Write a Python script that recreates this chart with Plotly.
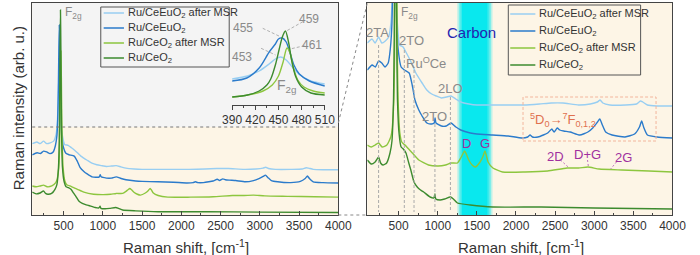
import plotly.graph_objects as go

W, H = 700, 255

# ---------------- data (Raman shift in cm-1, intensity in arb. u.) ----------------
lb_x = [100,160,200,244,285,330,373,403,418,428,435,443,450,458,468,483,513,557,600,640,
        676,720,800,860,923,980,1047,1110,1170,1230,1294,1400,1500,1700,1900,2100,2300,2450,2600,2800,
        2950,3040,3075,3110,3200,3400,3540,3590,3620,3680,3800,4000]
lb_y = [172,176,172,178,172,174,178,193,217,257,308,342,308,257,217,193,170,168,162,156,
        150,142,132,125,121,119,117,118,119,116,113,111,110,110,110,110,111,112,112,110,
        111,113,115,112,110,110,111,114,113,110,109,109]

b_x = [100,162,203,244,285,326,367,395,415,425,433,439,445,451,457,465,475,495,532,573,
       635,676,709,758,800,862,923,955,966,978,1047,1109,1170,1232,1294,1417,1500,1700,1900,2075,
       2150,2180,2210,2281,2350,2405,2458,2487,2528,2560,2610,2693,2816,2919,2981,3042,3071,3104,3146,3228,
       3393,3516,3578,3606,3631,3680,3804,4000]
b_y = [145,150,148,154,152,148,152,167,192,232,304,396,458,396,304,232,192,165,148,145,
       142,129,115,105,99,92,91,92,97,92,89,89,92,88,85,82,81,80,79,77,
       78,80,78,78,80,82,86,83,87,85,84,83,80,83,87,93,96,90,83,80,
       78,81,88,94,88,80,78,77]

lg_x = [100,150,200,244,290,350,400,416,438,448,455,460.5,466,471.5,477,484,494,516,540,594,
        640,676,758,882,1005,1100,1170,1252,1294,1320,1343,1365,1396,1440,1479,1541,1580,1602,1620,1643,
        1705,1828,2116,2405,2652,2800,2919,3063,3351,3700,4000]
lg_y = [70,68,70,72,68,70,78,85,113,158,232,330,395,330,232,158,113,82,73,69,
        65,62,55,50,49,50,52,52,57,61,64,61,55,50,48,53,59,64,60,53,
        47,43,43,44,47,47,48,46,45,44,43]

dg_x = [100,150,200,244,270,300,347,390,415,435,444,450,455,460,465,470,476,485,505,532,
        560,594,630,656,697,738,780,820,902,950,964,975,1030,1088,1162,1200,1252,1417,1705,2322,
        3000,4000]
dg_y = [55,51,53,58,52,50,52,62,74,116,178,275,406,494,406,275,178,116,82,68,
        66,62,52,45,33,28,25,23,18,17,21,16,15,16,18,16,12,10,8,8,
        7,6]

# inset (F2g region)
lb_in_x = [390,410,425,438,446,453,460,468,478,492,510]
lb_in_y = [26,29,34,41,46,48,45,38,30,24,21]
b_in_x = [390,409,425,438,446,450,455,460,465,470,477,490,510]
b_in_y = [24,27,37,53,61,66,67,63,52,40,31,24,19]
lg_in_x = [390,410,430,442,450,456,461,465,469,475,483,495,510]
lg_in_y = [8,10,14,20,29,43,57,52,38,25,18,14,12]
dg_in_x = [390,410,425,435,440,446,451,455,459,463,467,472,480,492,510]
dg_in_y = [8,10,14,20,26,40,56,68,74,63,45,29,18,12,10]

names = ["Ru/CeEuO<sub>2</sub> after MSR", "Ru/CeEuO<sub>2</sub>",
         "Ru/CeO<sub>2</sub> after MSR", "Ru/CeO<sub>2</sub>"]
colors = ["#98cef2", "#2b7bcb", "#8dc63f", "#3d8b2f"]
series = [(lb_x, lb_y), (b_x, b_y), (lg_x, lg_y), (dg_x, dg_y)]
inset = [(lb_in_x, lb_in_y), (b_in_x, b_in_y), (lg_in_x, lg_in_y), (dg_in_x, dg_in_y)]

inset_peaks = ["453", "455", "461", "459"]
xticks_main = [500, 1000, 1500, 2000, 2500, 3000, 3500, 4000]
xticks_inset = [390, 420, 450, 480, 510]

FONT = "Liberation Sans, Arial, sans-serif"
GREY_TXT = "#8a8a8a"
PURPLE = "#a0309f"

def X(px):
    return px / W

def Y(py):
    return 1 - py / H

fig = go.Figure()

for (xs, ys), c, n in zip(series, colors, names):
    fig.add_trace(go.Scatter(x=xs, y=ys, mode="lines", name=n, showlegend=False,
                             line=dict(color=c, width=1.4, shape="spline", smoothing=0.5),
                             xaxis="x", yaxis="y"))
for (xs, ys), c, n in zip(series, colors, names):
    fig.add_trace(go.Scatter(x=xs, y=ys, mode="lines", name=n, showlegend=False,
                             line=dict(color=c, width=1.4, shape="spline", smoothing=0.5),
                             xaxis="x2", yaxis="y2"))
for (xs, ys), c, n in zip(inset, colors, names):
    fig.add_trace(go.Scatter(x=xs, y=ys, mode="lines", name=n, showlegend=False,
                             line=dict(color=c, width=1.4, shape="spline", smoothing=0.8),
                             xaxis="x3", yaxis="y3"))

AX = "#444444"
common_x = dict(range=[100, 4000], showline=True, mirror=True, linecolor=AX, linewidth=1,
                ticks="inside", ticklen=4, tickcolor=AX, tickvals=xticks_main,
                minor=dict(ticks="inside", ticklen=2, tickcolor=AX, dtick=250, tick0=0),
                tickfont=dict(size=12, color="#333", family=FONT), showgrid=False, zeroline=False)
common_y = dict(showline=True, mirror=True, linecolor=AX, linewidth=1, showticklabels=False,
                ticks="", showgrid=False, zeroline=False,
                domain=[Y(215), Y(3)])

shapes = []
# backgrounds
shapes.append(dict(type="rect", xref="paper", yref="paper", x0=X(23), x1=X(340), y0=Y(215), y1=Y(3),
                   fillcolor="#fdf5e6", line=dict(width=0), layer="below"))
shapes.append(dict(type="rect", xref="paper", yref="paper", x0=X(23), x1=X(340), y0=Y(127), y1=Y(3),
                   fillcolor="#f4f4f4", line=dict(width=0), layer="below"))
shapes.append(dict(type="rect", xref="paper", yref="paper", x0=X(370), x1=X(686), y0=Y(215), y1=Y(3),
                   fillcolor="#fdf5e6", line=dict(width=0), layer="below"))
# carbon band (soft-edged)
for (a, bnd, col) in [(1250, 1700, "rgba(0,232,238,0.25)"), (1270, 1680, "rgba(0,232,238,0.35)"),
                      (1290, 1660, "rgba(0,232,238,0.5)"), (1310, 1635, "rgba(0,232,238,0.85)")]:
    shapes.append(dict(type="rect", xref="x2", yref="y2", x0=a, x1=bnd, y0=0, y1=212,
                       fillcolor=col, line=dict(width=0), layer="below"))
# dotted zoom boundary and connectors
shapes.append(dict(type="line", xref="paper", yref="paper", x0=X(23), x1=X(340), y0=Y(127), y1=Y(127),
                   line=dict(color="#777", width=1, dash="dot")))
shapes.append(dict(type="line", xref="paper", yref="paper", x0=X(340), x1=X(370), y0=Y(123), y1=Y(3),
                   line=dict(color="#888", width=1, dash="dot")))
shapes.append(dict(type="line", xref="paper", yref="paper", x0=X(340), x1=X(370), y0=Y(215), y1=Y(215),
                   line=dict(color="#888", width=1, dash="dot")))
# vertical dashed assignment lines (right panel)
for xv, ytop in [(244, 170), (573, 165), (697, 145), (964, 91), (1162, 118)]:
    shapes.append(dict(type="line", xref="x2", yref="y2", x0=xv, x1=xv, y0=ytop, y1=3,
                       line=dict(color="#aaaaaa", width=1, dash="3px,2px")))
# Eu emission box
shapes.append(dict(type="rect", xref="x2", yref="y2", x0=2090, x1=3790, y0=74, y1=118,
                   line=dict(color="#f2b59c", width=1, dash="3px,2px")))
# purple leaders
for (x0, y0, x1, y1) in [(570, 160, 578, 167), (598, 160, 599, 167), (628, 162, 622, 169)]:
    shapes.append(dict(type="line", xref="paper", yref="paper", x0=X(x0), x1=X(x1), y0=Y(y0), y1=Y(y1),
                       line=dict(color="#c070c0", width=1, dash="2px,2px")))
# inset leaders
for (x0, y0, x1, y1) in [(261.7, 28.3, 280, 36.7), (303.3, 21.7, 286.7, 30.7),
                         (305, 45.7, 290, 49), (260, 48.3, 275, 55)]:
    shapes.append(dict(type="line", xref="paper", yref="paper", x0=X(x0), x1=X(x1), y0=Y(y0), y1=Y(y1),
                       line=dict(color="#b0b0b0", width=1, dash="3px,2px")))

annotations = []

def txt(px, py, text, size=12, color=GREY_TXT, xanchor="center", angle=0):
    annotations.append(dict(x=X(px), y=Y(py), xref="paper", yref="paper", text=text, showarrow=False,
                            xanchor=xanchor, yanchor="middle", textangle=angle,
                            font=dict(size=size, color=color, family=FONT)))

# legends (drawn)
def legend(x0, y0, x1, y1, rows, lx0, lx1, tx):
    shapes.append(dict(type="rect", xref="paper", yref="paper", x0=X(x0), x1=X(x1), y0=Y(y0), y1=Y(y1),
                       line=dict(color="#555", width=1), fillcolor="rgba(255,255,255,0)"))
    for ry, c, n in zip(rows, colors, names):
        shapes.append(dict(type="line", xref="paper", yref="paper", x0=X(lx0), x1=X(lx1), y0=Y(ry), y1=Y(ry),
                           line=dict(color=c, width=1.5)))
        txt(tx, ry, n, size=11, color="#333", xanchor="left")

legend(94, 7, 227, 67, [13, 28, 43, 58], 97, 118, 120)
legend(516, 5, 653, 75, [14, 31, 48, 65], 518, 544, 546)

# axis titles
txt(182, 246, "Raman shift, [cm<sup>-1</sup>]", size=15, color="#333")
txt(529, 246, "Raman shift, [cm<sup>-1</sup>]", size=15, color="#333")
txt(8.5, 108, "Raman intensity (arb. u.)", size=15, color="#333", angle=-90)

# left panel labels
txt(66, 13, "F<sub>2g</sub>", size=12)
# inset labels
txt(241.7, 28.3, inset_peaks[1], size=12)
txt(310, 19, inset_peaks[3], size=12)
txt(313, 45, inset_peaks[2], size=12)
txt(240, 56.7, inset_peaks[0], size=12)
txt(286, 86, "F<sub>2g</sub>", size=14)

# right panel labels
txt(414, 13, "F<sub>2g</sub>", size=12)
txt(381, 33, "2TA", size=13)
txt(416, 40, "2TO", size=13)
txt(431, 63, "Ru<sup>O</sup>Ce", size=13)
txt(456, 88, "2LO", size=13)
txt(440, 117, "2TO", size=13)
txt(478, 33, "Carbon", size=15, color="#2424b0")
txt(473, 143, "D", size=13, color=PURPLE)
txt(492, 143, "G", size=13, color=PURPLE)
txt(565, 156, "2D", size=13, color=PURPLE)
txt(598, 154, "D+G", size=13, color=PURPLE)
txt(635, 157, "2G", size=13, color=PURPLE)
txt(573, 120, "<sup>5</sup>D<sub>0</sub>→<sup>7</sup>F<sub>0,1,2</sub>", size=13, color="#e0704e")

fig.update_layout(
    width=W, height=H, autosize=False,
    margin=dict(l=0, r=0, t=0, b=0, pad=0),
    paper_bgcolor="white", plot_bgcolor="rgba(0,0,0,0)",
    font=dict(family=FONT, size=12, color="#333"),
    showlegend=False,
    xaxis=dict(domain=[X(23), X(340)], anchor="y", **common_x),
    yaxis=dict(range=[0, 511], anchor="x", **common_y),
    xaxis2=dict(domain=[X(370), X(686)], anchor="y2", **common_x),
    yaxis2=dict(range=[0, 212], anchor="x2", **common_y),
    xaxis3=dict(domain=[X(230), X(326)], anchor="y3", range=[390, 510], showline=True, mirror=False,
                linecolor=AX, linewidth=1, ticks="outside", ticklen=4, tickcolor=AX,
                tickvals=xticks_inset,
                minor=dict(ticks="outside", ticklen=2, tickcolor=AX, dtick=15, tick0=0),
                tickfont=dict(size=12, color="#333", family=FONT), showgrid=False, zeroline=False),
    yaxis3=dict(domain=[Y(105), Y(15)], anchor="x3", range=[0, 90], visible=False),
    shapes=shapes,
    annotations=annotations,
)

fig.write_html("out.html")
